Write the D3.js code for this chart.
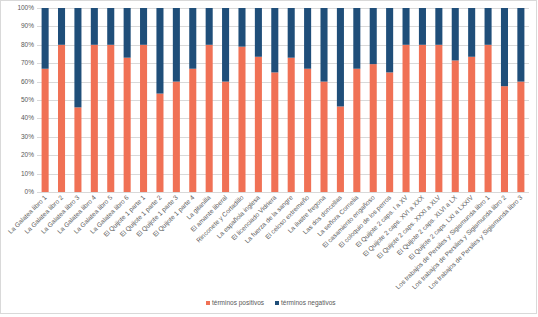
<!DOCTYPE html>
<html lang="es">
  <head>
    <meta charset="utf-8" />
    <title>términos positivos / negativos</title>
    <script type="text/javascript" src="https://d3js.org/d3.v7.min.js"></script>
    <style>
      body { margin: 0; background: #fff; }
      text { font-family: "Liberation Sans", Arial, sans-serif; }
    </style>
  </head>
  <body>
    <div id="graph"></div>
    <script type="text/javascript">
      /***************
       * data
       ***************/
      const categories = [
        "La Galatea libro 1", "La Galatea libro 2", "La Galatea libro 3",
        "La Galatea libro 4", "La Galatea libro 5", "La Galatea libro 6",
        "El Quijote 1 parte 1", "El Quijote 1 parte 2", "El Quijote 1 parte 3",
        "El Quijote 1 parte 4", "La gitanilla", "El amante liberal",
        "Rinconete y Cortadillo", "La española inglesa", "El licenciado Vidriera",
        "La fuerza de la sangre", "El celoso extremeño", "La ilustre fregona",
        "Las dos doncellas", "La señora Cornelia", "El casamiento engañoso",
        "El coloquio de los perros", "El Quijote 2 caps. I a XV",
        "El Quijote 2 caps. XVI a XXX", "El Quijote 2 caps. XXXI a XLV",
        "El Quijote 2 caps. XLVI a LX", "El Quijote 2 caps. LXI a LXXIV",
        "Los trabajos de Persiles y Sigismunda libro 1",
        "Los trabajos de Persiles y Sigismunda libro 2",
        "Los trabajos de Persiles y Sigismunda libro 3"
      ];
      // share of positive terms (%)
      const positivos = [67, 80, 46, 80, 80, 73, 80, 53.5, 60, 67,
                         80, 60, 79, 73.5, 65, 73, 67, 60, 46.5, 67,
                         69.5, 65, 80, 80, 80, 71.5, 73.5, 80, 57.5, 60];
      const negativos = positivos.map(v => 100 - v);
      const seriesNames = ["términos positivos", "términos negativos"];
      const yTicks = [0, 10, 20, 30, 40, 50, 60, 70, 80, 90, 100];

      /***************
       * svg
       ***************/
      const width = 538, height = 317;
      const margin = { top: 8, right: 9, bottom: 125, left: 37 };

      const svg = d3.select("#graph").append("svg")
        .attr("width", width).attr("height", height);

      // outer chart frame
      svg.append("rect")
        .attr("x", 0.5).attr("y", 0.5)
        .attr("width", width - 2).attr("height", height - 4)
        .attr("fill", "#fff").attr("stroke", "#d9d9d9");

      const colors = d3.scaleOrdinal().domain(seriesNames).range(["#f07155", "#1f4e79"]);

      const x = d3.scaleBand().domain(categories)
        .range([margin.left, width - margin.right])
        .paddingInner(0.57).paddingOuter(0.28);
      const y = d3.scaleLinear().domain([0, 100])
        .range([height - margin.bottom, margin.top]);

      // gridlines
      svg.append("g").selectAll("line").data(yTicks).enter().append("line")
        .attr("x1", margin.left).attr("x2", width - margin.right)
        .attr("y1", d => Math.round(y(d)) + 0.5).attr("y2", d => Math.round(y(d)) + 0.5)
        .attr("stroke", "#d9d9d9").attr("stroke-width", 1);

      // stacked bars
      const table = categories.map((c, i) => ({ cat: c, "términos positivos": positivos[i], "términos negativos": negativos[i] }));
      const stack = d3.stack().keys(seriesNames)(table);

      svg.append("g").selectAll("g").data(stack).enter().append("g")
        .attr("fill", d => colors(d.key))
        .selectAll("rect").data(d => d).enter().append("rect")
        .attr("x", d => x(d.data.cat))
        .attr("width", x.bandwidth())
        .attr("y", d => y(d[1]))
        .attr("height", d => y(d[0]) - y(d[1]));

      // y axis labels
      svg.append("g").selectAll("text").data(yTicks).enter().append("text")
        .attr("x", margin.left - 3).attr("y", d => y(d) + 2)
        .attr("text-anchor", "end")
        .attr("font-size", 6.5).attr("fill", "#595959")
        .text(d => d + "%");

      // x axis labels
      svg.append("g").selectAll("text").data(categories).enter().append("text")
        .attr("transform", d => "translate(" + (x(d) + x.bandwidth() / 2 + 2) + "," + (height - margin.bottom + 6) + ") rotate(-45)")
        .attr("text-anchor", "end")
        .attr("font-size", 6.5).attr("fill", "#595959")
        .text(d => d);

      // legend
      const legend = svg.append("g").selectAll("g").data(seriesNames).enter().append("g")
        .attr("transform", (d, i) => "translate(" + (206 + i * 69) + ",301)");
      legend.append("rect").attr("width", 4).attr("height", 4).attr("fill", d => colors(d));
      legend.append("text").attr("x", 6).attr("y", 4)
        .attr("font-size", 6.5).attr("fill", "#595959").text(d => d);
    </script>
  </body>
</html>
